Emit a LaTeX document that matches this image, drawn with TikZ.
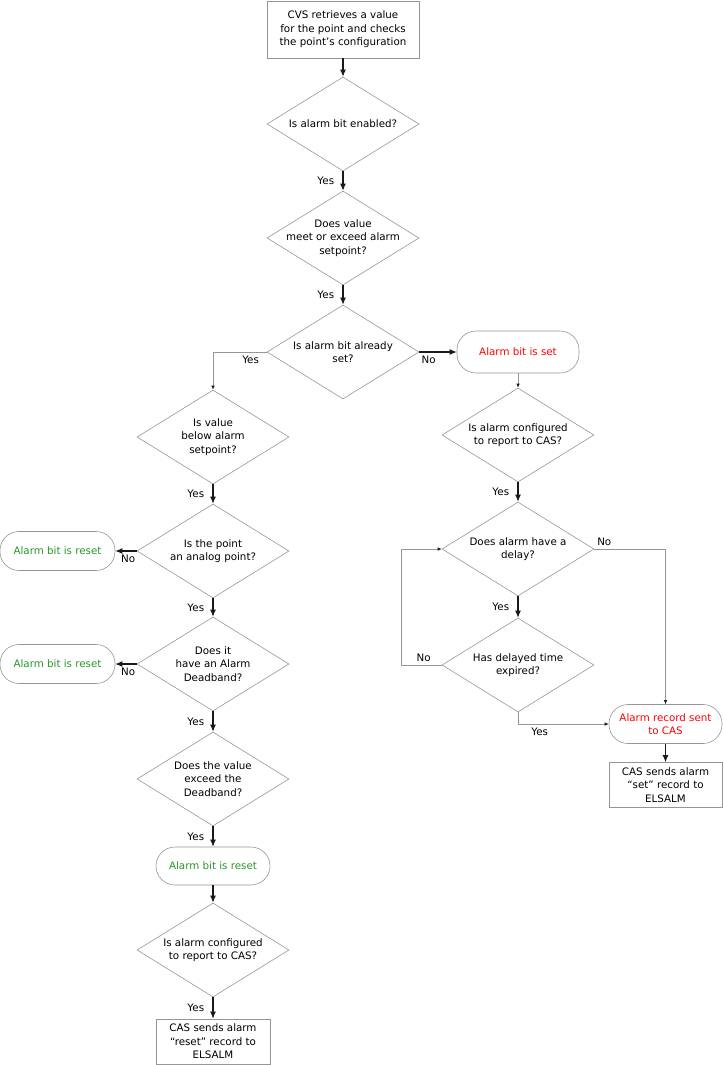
\documentclass[tikz,border=0pt]{standalone}
\usepackage{fontspec}
\setmainfont{DejaVu Sans}
\usetikzlibrary{shapes.geometric,arrows.meta}
\definecolor{linegray}{RGB}{150,150,150}
\definecolor{arrowdark}{RGB}{25,25,25}
\definecolor{alarmred}{RGB}{255,0,0}
\definecolor{alarmgreen}{RGB}{40,150,40}
\begin{document}
\begin{tikzpicture}[x=1pt,y=-1pt,
    font=\fontsize{10.3}{13.5}\selectfont,
    decision/.style={diamond, draw=linegray, line width=0.6pt,
      minimum width=152pt, minimum height=94pt, inner sep=0pt,
      label={[align=center]center:#1}},
    process/.style={rectangle, draw=linegray, line width=0.6pt, align=center,
      minimum width=152pt, minimum height=57pt},
    terminal/.style={rectangle, rounded corners=19pt, draw=linegray,
      line width=0.6pt, align=center, minimum width=115pt, minimum height=39pt},
    flow/.style={draw=arrowdark, line width=1.1pt,
      -{Latex[length=7pt,width=6pt]}},
    link/.style={draw=linegray, line width=0.7pt,
      -{Latex[length=4pt,width=3.5pt,color=arrowdark]}}]
  \useasboundingbox (0,0) rectangle (723,1065);

  \node[process] (start) at (343,29.5)
    {CVS retrieves a value\\for the point and checks\\the point’s configuration};
  \node[decision={Is alarm bit enabled?}] (enabled) at (343,124) {};
  \node[decision={Does value\\meet or exceed alarm\\setpoint?}] (exceed) at (343,238) {};
  \node[decision={Is alarm bit already\\set?}] (already) at (343,352) {};

  % right branch
  \node[terminal, text=alarmred, minimum width=122pt, minimum height=42pt]
    (bitset) at (518,352) {Alarm bit is set};
  \node[decision={Is alarm configured\\to report to CAS?}] (reportset) at (518,435) {};
  \node[decision={Does alarm have a\\delay?}] (delay) at (518,549) {};
  \node[decision={Has delayed time\\expired?}] (expired) at (518,665) {};
  \node[terminal, text=alarmred, minimum width=113pt] (sent) at (665.5,724)
    {Alarm record sent\\to CAS};
  \node[process, minimum width=113pt, minimum height=45pt] (setrec) at (665.5,785)
    {CAS sends alarm\\“set” record to\\ELSALM};

  % left branch
  \node[decision={Is value\\below alarm\\setpoint?}] (below) at (213,437) {};
  \node[decision={Is the point\\an analog point?}] (analog) at (213,551) {};
  \node[terminal, text=alarmgreen] (reset1) at (57.5,551) {Alarm bit is reset};
  \node[decision={Does it\\have an Alarm\\Deadband?}] (deadband) at (213,664) {};
  \node[terminal, text=alarmgreen] (reset2) at (57.5,664) {Alarm bit is reset};
  \node[decision={Does the value\\exceed the\\Deadband?}] (exceeddb) at (213,779) {};
  \node[terminal, text=alarmgreen, minimum width=114pt, minimum height=38pt]
    (reset3) at (213,866) {Alarm bit is reset};
  \node[decision={Is alarm configured\\to report to CAS?}] (reportreset) at (213,950) {};
  \node[process, minimum width=114pt, minimum height=45pt] (resetrec) at (213,1041.5)
    {CAS sends alarm\\“reset” record to\\ELSALM};

  \draw[flow] (start) -- (enabled);
  \draw[flow] (enabled) -- node[left=5pt] {Yes} (exceed);
  \draw[flow] (exceed) -- node[left=5pt] {Yes} (already);
  \draw[flow] (already.east) -- node[pos=0.25, below] {No} (bitset);
  \draw[link] (already.west) -| node[pos=0.15, below] {Yes} (below.north);

  \draw[link] (bitset) -- (reportset);
  \draw[flow] (reportset) -- node[left=5pt] {Yes} (delay);
  \draw[link] (delay.east) -| node[pos=0.07, above] {No} (sent.north);
  \draw[flow] (delay) -- node[left=5pt] {Yes} (expired);
  \draw[link] (expired.west) -- ++(-40,0) node[pos=0.45, above] {No} |- (delay.west);
  \draw[link] (expired.south) |- node[pos=0.62, below] {Yes} (sent.west);
  \draw[flow] (sent) -- (setrec);

  \draw[flow] (below) -- node[left=5pt] {Yes} (analog);
  \draw[flow] (analog.west) -- node[pos=0.4, below] {No} (reset1);
  \draw[flow] (analog) -- node[left=5pt] {Yes} (deadband);
  \draw[flow] (deadband.west) -- node[pos=0.4, below] {No} (reset2);
  \draw[flow] (deadband) -- node[left=5pt] {Yes} (exceeddb);
  \draw[flow] (exceeddb) -- node[left=5pt] {Yes} (reset3);
  \draw[flow] (reset3) -- (reportreset);
  \draw[flow] (reportreset) -- node[left=5pt] {Yes} (resetrec);
\end{tikzpicture}
\end{document}
